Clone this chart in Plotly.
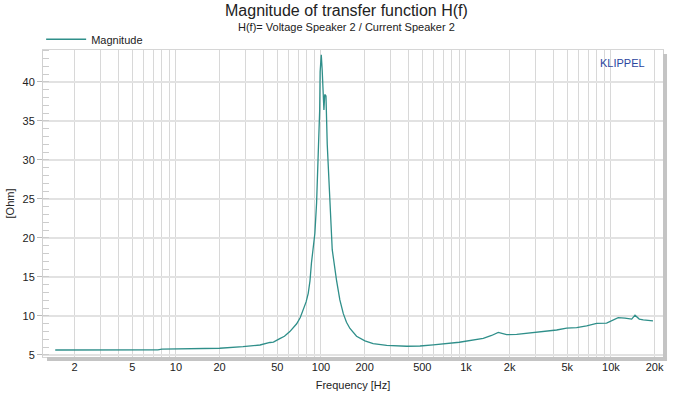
import plotly.graph_objects as go

freq_hz = [1.47, 3, 5, 7.5, 8, 13, 20, 29, 38, 44.5, 47, 52, 56, 61, 68, 72, 75.5, 79,
           81.7, 84, 86, 88.5, 90.8, 93.3, 95.5, 96.5, 98.0, 98.7, 100.5, 102.0, 103.5,
           104.8, 106.2, 108.3, 110.5, 112.5, 115.2, 119.6, 124, 128, 135, 142.6, 150,
           158.5, 176, 201, 229, 284, 390, 482, 595, 736, 900, 1316, 1503, 1670, 1909,
           2238, 3238, 4223, 4948, 5800, 6800, 7966, 9333, 9840, 11220, 12490, 13900,
           14650, 15680, 16700, 19500]
magnitude_ohm = [5.64, 5.64, 5.65, 5.66, 5.75, 5.77, 5.86, 6.06, 6.28, 6.6, 6.65, 7.1, 7.4,
                 8.0, 9.0, 9.8, 10.8, 11.8, 12.9, 14.5, 16.8, 18.5, 20.6, 24.5, 30.5, 32.0,
                 36.4, 41.3, 43.5, 41.5, 38.4, 36.4, 38.4, 38.2, 32.0, 28.0, 24.9, 18.5,
                 16.2, 14.6, 12.05, 10.3, 9.2, 8.4, 7.4, 6.8, 6.45, 6.22, 6.12, 6.15, 6.3,
                 6.45, 6.63, 7.14, 7.5, 7.9, 7.6, 7.65, 7.99, 8.2, 8.45, 8.5, 8.72, 9.06,
                 9.08, 9.27, 9.78, 9.72, 9.6, 10.1, 9.6, 9.5, 9.36]

x_label_vals = [2, 5, 10, 20, 50, 100, 200, 500, 1000, 2000, 5000, 10000, 20000]
x_label_text = ["2", "5", "10", "20", "50", "100", "200", "500", "1k", "2k", "5k", "10k", "20k"]
y_tick_vals = [5, 10, 15, 20, 25, 30, 35, 40]

# grid positions: every 1..9 per decade
grid_vals = [m * 10 ** e for e in range(0, 5) for m in range(1, 10) if 1.2 < m * 10 ** e < 23000]
tickvals = grid_vals
ticktext = [x_label_text[x_label_vals.index(v)] if v in x_label_vals else "" for v in grid_vals]

FONT = "Liberation Sans, Arial, sans-serif"
LINE = "#2f8f8a"

fig = go.Figure()
fig.add_trace(go.Scatter(x=freq_hz, y=magnitude_ohm, mode="lines", name="Magnitude",
                         line=dict(color=LINE, width=1.3)))

fig.update_layout(
    width=692, height=395,
    margin=dict(l=43, r=29, t=50, b=38, autoexpand=False),
    paper_bgcolor="white", plot_bgcolor="white",
    font=dict(family=FONT, size=11, color="#222222"),
    showlegend=True,
    legend=dict(x=-0.003, y=1.035, xanchor="left", yanchor="middle", orientation="h",
                font=dict(size=11, color="#222222"), bgcolor="rgba(0,0,0,0)",
                itemwidth=40),
    xaxis=dict(type="log", range=[0.083, 4.359], tickmode="array", tickvals=tickvals,
               ticktext=ticktext, showgrid=True, gridcolor="#d8d8d8", gridwidth=1.2,
               showline=True, mirror=True, linecolor="#d6d6d6", ticks="", zeroline=False,
               automargin=False,
               title=dict(text="Frequency [Hz]", font=dict(size=11), standoff=9),
               tickfont=dict(size=11)),
    yaxis=dict(range=[4.74, 44.1], tickmode="array", tickvals=y_tick_vals,
               showgrid=True, gridcolor="#e2e2e2", gridwidth=1.5,
               showline=True, mirror=True, linecolor="#d0d0d0", zeroline=False,
               ticks="outside", ticklen=5, tickcolor="#bbbbbb", automargin=False,
               minor=dict(dtick=1, ticks="inside", ticklen=6, tickcolor="#cccccc", showgrid=False),
               title=dict(text="[Ohm]", font=dict(size=11), standoff=5),
               tickfont=dict(size=11)),
)

# shadow strips right and bottom of the plot frame
fig.add_shape(type="rect", xref="paper", yref="paper", x0=1.0, x1=1.0065, y0=-0.013, y1=0.987,
              fillcolor="#c4c4c4", line=dict(width=0), layer="above")
fig.add_shape(type="rect", xref="paper", yref="paper", x0=0.0065, x1=1.0065, y0=-0.013, y1=-0.0003,
              fillcolor="#c4c4c4", line=dict(width=0), layer="above")

fig.add_annotation(text="Magnitude of transfer function H(f)", xref="paper", yref="paper",
                   x=0.489, y=1.13, xanchor="center", yanchor="middle", showarrow=False,
                   font=dict(size=16, color="#222222"))
fig.add_annotation(text="H(f)= Voltage Speaker 2 / Current Speaker 2", xref="paper", yref="paper",
                   x=0.489, y=1.075, xanchor="center", yanchor="middle", showarrow=False,
                   font=dict(size=11, color="#222222"))
fig.add_annotation(text="KLIPPEL", xref="paper", yref="paper", x=0.935, y=0.958,
                   xanchor="center", yanchor="middle", showarrow=False,
                   font=dict(size=11, color="#2b45a0"))

fig.write_html("out.html", config={"displayModeBar": False},
               post_script="document.body.style.margin='0';document.body.style.overflow='hidden';")
